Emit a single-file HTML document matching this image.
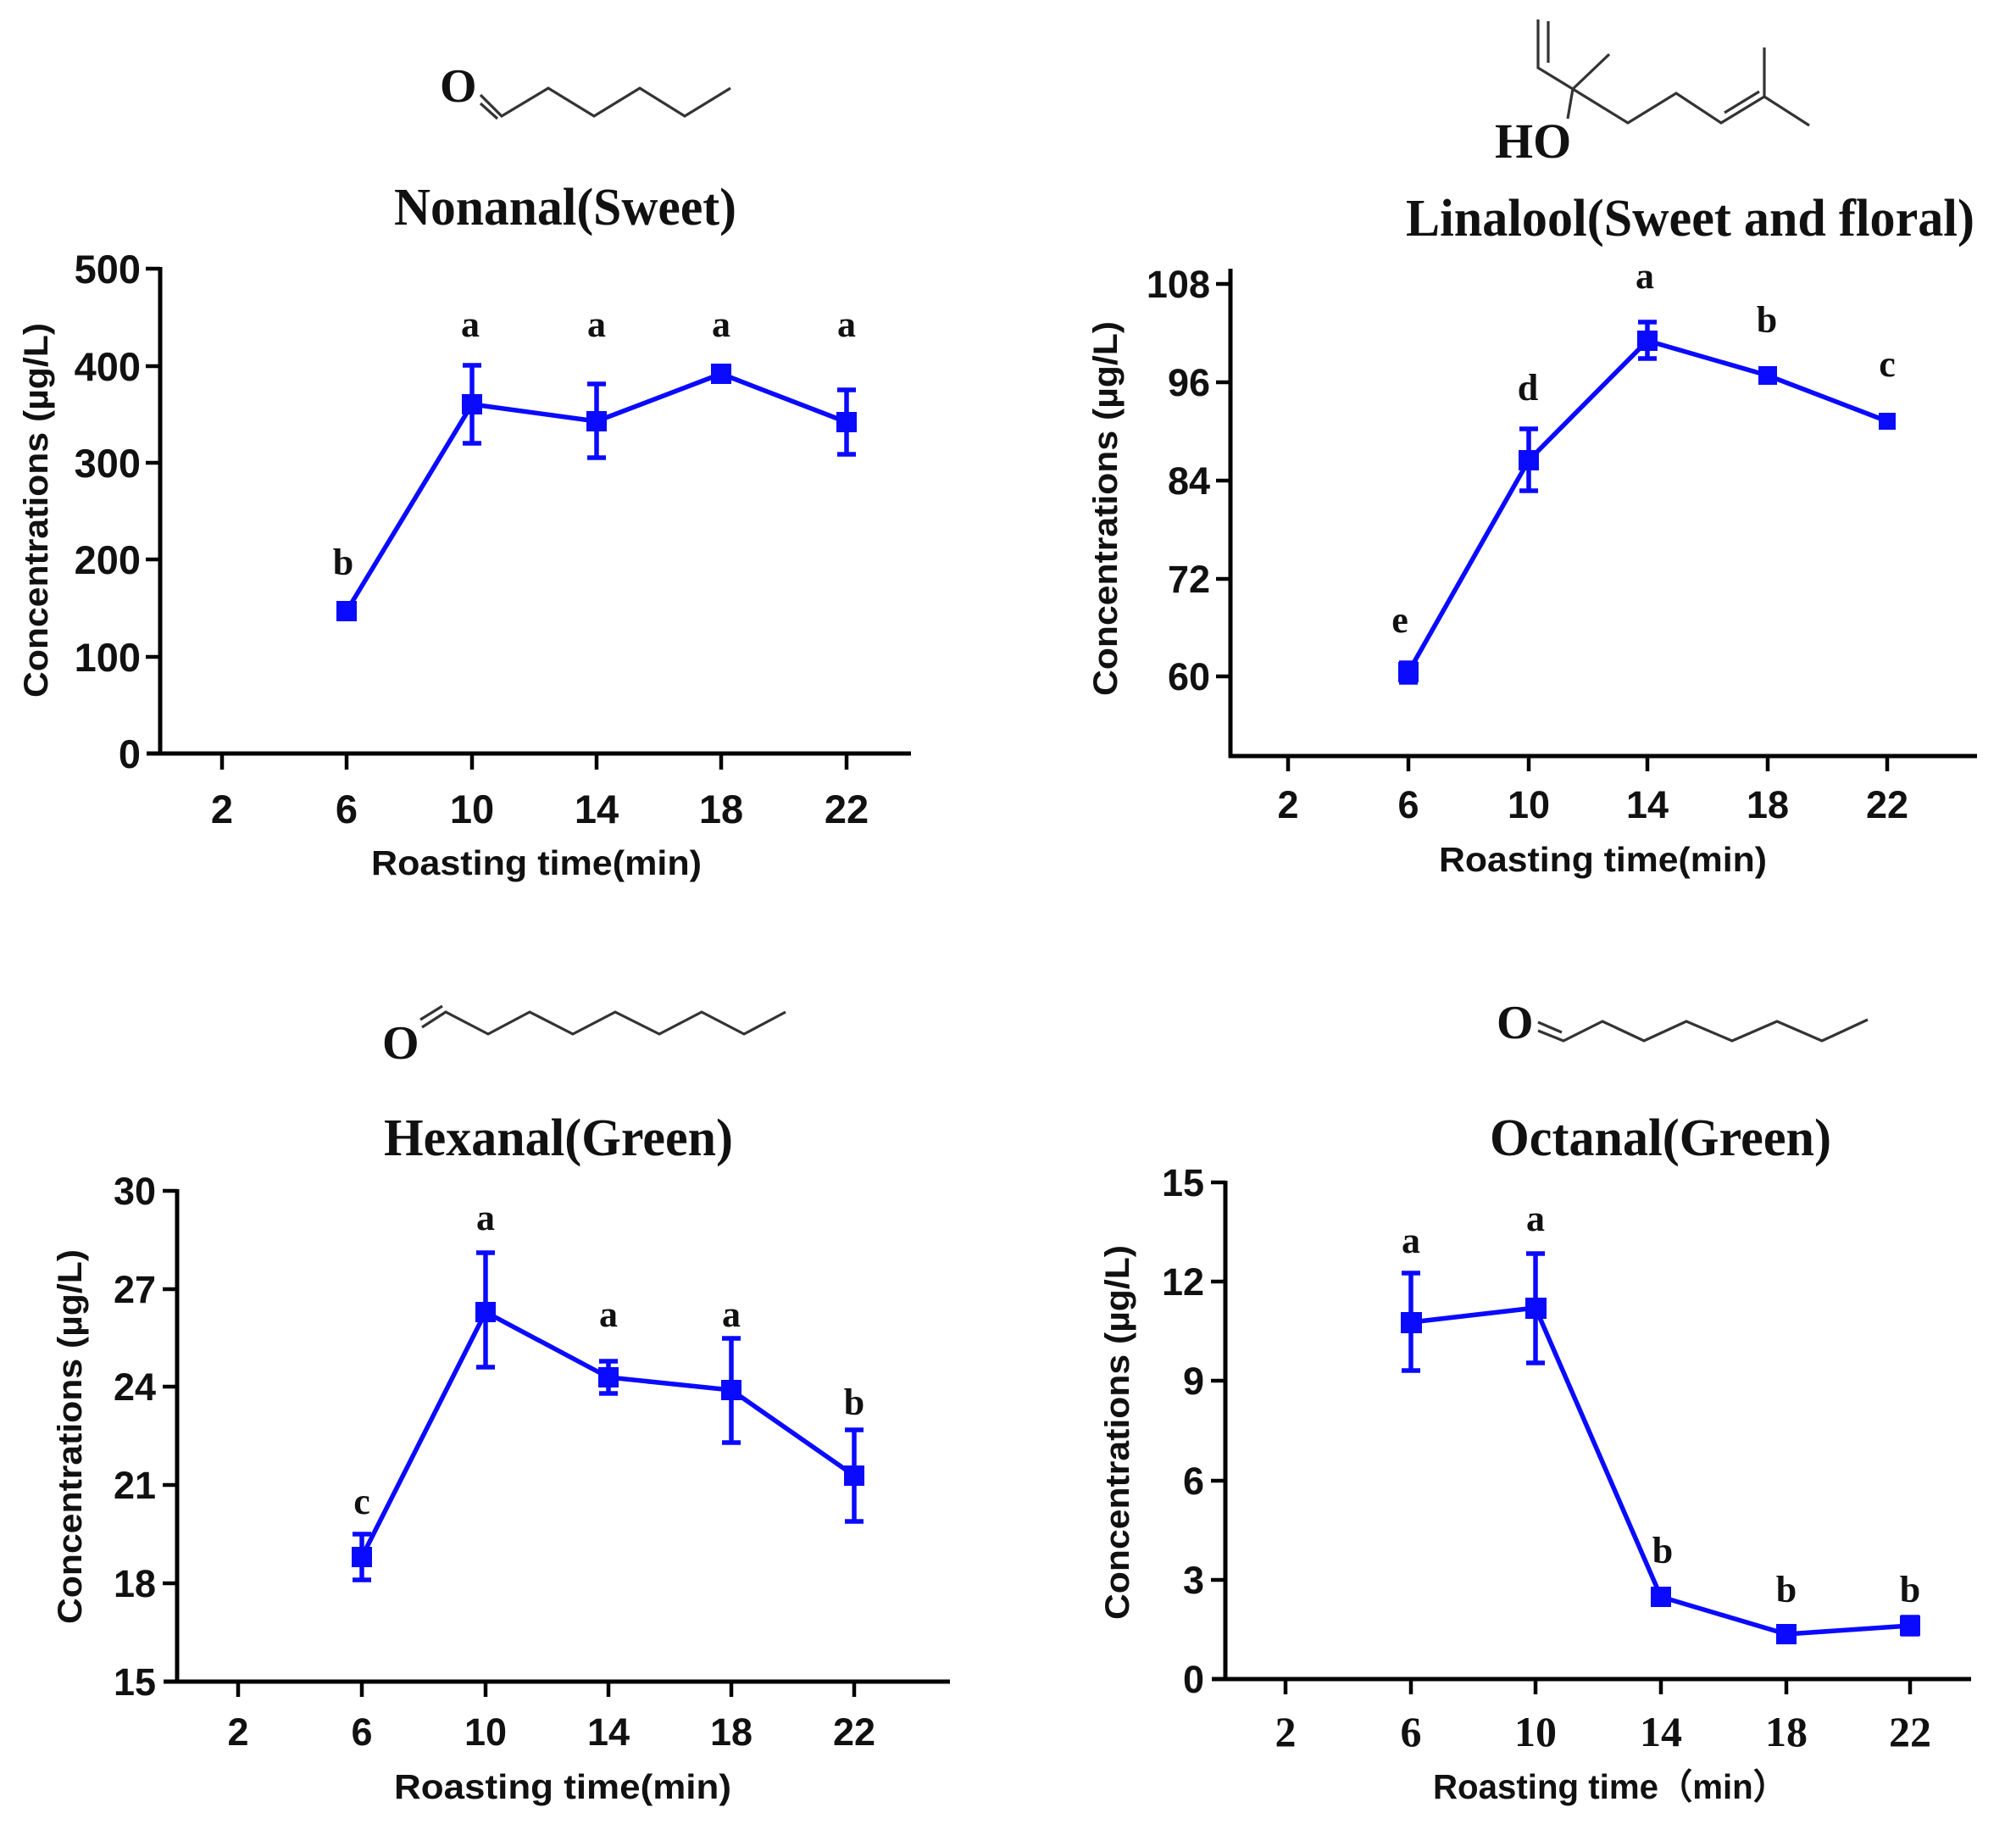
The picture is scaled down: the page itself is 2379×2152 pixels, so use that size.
<!DOCTYPE html>
<html><head><meta charset="utf-8"><style>
html,body{margin:0;padding:0;background:#fff;}
svg{display:block;}
.t{font-family:"Liberation Sans",sans-serif;font-weight:bold;fill:#111;}
.s{font-family:"Liberation Serif",serif;font-weight:bold;fill:#111;}
.ax{stroke:#000;stroke-width:5;fill:none;}
.tk{stroke:#000;stroke-width:4.5;fill:none;}
.ln{stroke:#0a0aff;stroke-width:5.5;fill:none;}
.mk{fill:#0a0aff;}
.mol{stroke:#333;stroke-width:3.2;fill:none;}
</style></head><body>
<svg width="2379" height="2152" viewBox="0 0 2379 2152" xmlns="http://www.w3.org/2000/svg">

<!-- ===== Panel 1: Nonanal ===== -->
<text class="s" x="519" y="120" font-size="56">O</text>
<polyline class="mol" points="567,112 592,137 647,104 701,137 755,104 808,137 862,104"/>
<line class="mol" x1="567" y1="122" x2="587" y2="140"/>
<text class="s" x="465" y="265" font-size="62" textLength="404" lengthAdjust="spacingAndGlyphs">Nonanal(Sweet)</text>

<line class="ax" x1="189" y1="315" x2="189" y2="891"/>
<line class="ax" x1="173" y1="889" x2="1075" y2="889"/>
<g class="tk">
<line x1="172" y1="317" x2="189" y2="317"/><line x1="172" y1="432" x2="189" y2="432"/>
<line x1="172" y1="546" x2="189" y2="546"/><line x1="172" y1="660" x2="189" y2="660"/>
<line x1="172" y1="775" x2="189" y2="775"/>
<line x1="262" y1="889" x2="262" y2="908"/><line x1="409" y1="889" x2="409" y2="908"/>
<line x1="557" y1="889" x2="557" y2="908"/><line x1="704" y1="889" x2="704" y2="908"/>
<line x1="851" y1="889" x2="851" y2="908"/><line x1="999" y1="889" x2="999" y2="908"/>
</g>
<g class="t" font-size="47" text-anchor="end">
<text x="166" y="334">500</text><text x="166" y="449">400</text><text x="166" y="563">300</text>
<text x="166" y="677">200</text><text x="166" y="792">100</text><text x="166" y="906">0</text>
</g>
<g class="t" font-size="47" text-anchor="middle">
<text x="262" y="971">2</text><text x="409" y="971">6</text><text x="557" y="971">10</text>
<text x="704" y="971">14</text><text x="851" y="971">18</text><text x="999" y="971">22</text>
</g>
<text class="t" x="438" y="1032" font-size="41" textLength="390" lengthAdjust="spacingAndGlyphs">Roasting time(min)</text>
<text class="t" transform="translate(56,602) rotate(-90)" font-size="40" text-anchor="middle" textLength="442" lengthAdjust="spacingAndGlyphs">Concentrations (µg/L)</text>
<polyline class="ln" points="409,721 557,477 704,497 851,441 999,498"/>
<g class="ln">
<path d="M557,431V523M546,431H568M546,523H568"/>
<path d="M704,453V540M693,453H715M693,540H715"/>
<path d="M851,435V446M840,435H862M840,446H862"/>
<path d="M999,460V536M988,460H1010M988,536H1010"/>
</g>
<g class="mk">
<rect x="397" y="709" width="24" height="24"/><rect x="545" y="465" width="24" height="24"/>
<rect x="692" y="485" width="24" height="24"/><rect x="839" y="429" width="24" height="24"/>
<rect x="987" y="486" width="24" height="24"/>
</g>
<g class="s" font-size="44" text-anchor="middle">
<text x="405" y="678">b</text><text x="555" y="397">a</text><text x="704" y="397">a</text>
<text x="851" y="397">a</text><text x="999" y="397">a</text>
</g>

<!-- ===== Panel 2: Linalool ===== -->
<polyline class="mol" points="1815,23 1815,80 1856,105 1921,145 1978,110 2031,145 2082,114 2135,148"/>
<line class="mol" x1="1827" y1="25" x2="1827" y2="74"/>
<line class="mol" x1="1856" y1="105" x2="1899" y2="64"/>
<line class="mol" x1="1856" y1="105" x2="1850" y2="140"/>
<line class="mol" x1="2082" y1="114" x2="2082" y2="56"/>
<line class="mol" x1="2035" y1="133" x2="2076" y2="108"/>
<text class="s" x="1764" y="186" font-size="58">HO</text>
<text class="s" x="1659" y="278" font-size="62" textLength="671" lengthAdjust="spacingAndGlyphs">Linalool(Sweet and floral)</text>

<line class="ax" x1="1452" y1="317" x2="1452" y2="894"/>
<line class="ax" x1="1450" y1="892" x2="2333" y2="892"/>
<g class="tk">
<line x1="1435" y1="335" x2="1452" y2="335"/><line x1="1435" y1="451" x2="1452" y2="451"/>
<line x1="1435" y1="567" x2="1452" y2="567"/><line x1="1435" y1="683" x2="1452" y2="683"/>
<line x1="1435" y1="798" x2="1452" y2="798"/>
<line x1="1520" y1="892" x2="1520" y2="910"/><line x1="1662" y1="892" x2="1662" y2="910"/>
<line x1="1804" y1="892" x2="1804" y2="910"/><line x1="1944" y1="892" x2="1944" y2="910"/>
<line x1="2086" y1="892" x2="2086" y2="910"/><line x1="2227" y1="892" x2="2227" y2="910"/>
</g>
<g class="t" font-size="45" text-anchor="end">
<text x="1428" y="351">108</text><text x="1428" y="467">96</text><text x="1428" y="583">84</text>
<text x="1428" y="699">72</text><text x="1428" y="814">60</text>
</g>
<g class="t" font-size="45" text-anchor="middle">
<text x="1520" y="965">2</text><text x="1662" y="965">6</text><text x="1804" y="965">10</text>
<text x="1944" y="965">14</text><text x="2086" y="965">18</text><text x="2227" y="965">22</text>
</g>
<text class="t" x="1698" y="1028" font-size="41" textLength="387" lengthAdjust="spacingAndGlyphs">Roasting time(min)</text>
<text class="t" transform="translate(1318,600) rotate(-90)" font-size="40" text-anchor="middle" textLength="442" lengthAdjust="spacingAndGlyphs">Concentrations (µg/L)</text>
<polyline class="ln" points="1662,793 1804,543 1944,402 2086,443 2227,497"/>
<g class="ln">
<path d="M1662,805V782M1651,805H1673M1651,782H1673"/>
<path d="M1804,506V579M1793,506H1815M1793,579H1815"/>
<path d="M1944,380V423M1933,380H1955M1933,423H1955"/>
</g>
<g class="mk">
<rect x="1650" y="781" width="24" height="24"/><rect x="1792" y="531" width="24" height="24"/>
<rect x="1932" y="390" width="24" height="24"/><rect x="2075" y="432" width="22" height="22"/>
<rect x="2217" y="487" width="20" height="20"/>
</g>
<g class="s" font-size="44" text-anchor="middle">
<text x="1652" y="746">e</text><text x="1803" y="472">d</text><text x="1941" y="340">a</text>
<text x="2085" y="392">b</text><text x="2227" y="444">c</text>
</g>

<!-- ===== Panel 3: Hexanal ===== -->
<text class="s" x="451" y="1249" font-size="56">O</text>
<polyline class="mol" points="498,1212 526,1194 576,1220 625,1194 676,1220 726,1194 778,1220 828,1194 878,1220 927,1194"/>
<line class="mol" x1="496" y1="1203" x2="522" y2="1187"/>
<text class="s" x="453" y="1363" font-size="62" textLength="412" lengthAdjust="spacingAndGlyphs">Hexanal(Green)</text>

<line class="ax" x1="209" y1="1403" x2="209" y2="1986"/>
<line class="ax" x1="193" y1="1984" x2="1121" y2="1984"/>
<g class="tk">
<line x1="192" y1="1405" x2="209" y2="1405"/><line x1="192" y1="1521" x2="209" y2="1521"/>
<line x1="192" y1="1636" x2="209" y2="1636"/><line x1="192" y1="1752" x2="209" y2="1752"/>
<line x1="192" y1="1868" x2="209" y2="1868"/>
<line x1="281" y1="1984" x2="281" y2="2002"/><line x1="427" y1="1984" x2="427" y2="2002"/>
<line x1="573" y1="1984" x2="573" y2="2002"/><line x1="718" y1="1984" x2="718" y2="2002"/>
<line x1="863" y1="1984" x2="863" y2="2002"/><line x1="1008" y1="1984" x2="1008" y2="2002"/>
</g>
<g class="t" font-size="45" text-anchor="end">
<text x="184" y="1421">30</text><text x="184" y="1537">27</text><text x="184" y="1652">24</text>
<text x="184" y="1768">21</text><text x="184" y="1884">18</text><text x="184" y="2000">15</text>
</g>
<g class="t" font-size="45" text-anchor="middle">
<text x="281" y="2059">2</text><text x="427" y="2059">6</text><text x="573" y="2059">10</text>
<text x="718" y="2059">14</text><text x="863" y="2059">18</text><text x="1008" y="2059">22</text>
</g>
<text class="t" x="465" y="2122" font-size="41" textLength="398" lengthAdjust="spacingAndGlyphs">Roasting time(min)</text>
<text class="t" transform="translate(96,1695) rotate(-90)" font-size="40" text-anchor="middle" textLength="442" lengthAdjust="spacingAndGlyphs">Concentrations (µg/L)</text>
<polyline class="ln" points="427,1837 573,1548 718,1625 863,1640 1008,1741"/>
<g class="ln">
<path d="M427,1810V1864M416,1810H438M416,1864H438"/>
<path d="M573,1478V1613M562,1478H584M562,1613H584"/>
<path d="M718,1606V1644M707,1606H729M707,1644H729"/>
<path d="M863,1579V1702M852,1579H874M852,1702H874"/>
<path d="M1008,1687V1795M997,1687H1019M997,1795H1019"/>
</g>
<g class="mk">
<rect x="415" y="1825" width="24" height="24"/><rect x="561" y="1536" width="24" height="24"/>
<rect x="706" y="1613" width="24" height="24"/><rect x="851" y="1628" width="24" height="24"/>
<rect x="996" y="1729" width="24" height="24"/>
</g>
<g class="s" font-size="44" text-anchor="middle">
<text x="427" y="1786">c</text><text x="573" y="1451">a</text><text x="718" y="1565">a</text>
<text x="863" y="1565">a</text><text x="1008" y="1669">b</text>
</g>

<!-- ===== Panel 4: Octanal ===== -->
<text class="s" x="1766" y="1225" font-size="56">O</text>
<polyline class="mol" points="1815,1216 1845,1228 1891,1205 1940,1228 1990,1205 2044,1228 2097,1205 2150,1228 2204,1203"/>
<line class="mol" x1="1815" y1="1206" x2="1843" y2="1218"/>
<text class="s" x="1758" y="1363" font-size="62" textLength="403" lengthAdjust="spacingAndGlyphs">Octanal(Green)</text>

<line class="ax" x1="1446" y1="1393" x2="1446" y2="1983"/>
<line class="ax" x1="1430" y1="1981" x2="2326" y2="1981"/>
<g class="tk">
<line x1="1429" y1="1395" x2="1446" y2="1395"/><line x1="1429" y1="1512" x2="1446" y2="1512"/>
<line x1="1429" y1="1629" x2="1446" y2="1629"/><line x1="1429" y1="1747" x2="1446" y2="1747"/>
<line x1="1429" y1="1864" x2="1446" y2="1864"/>
<line x1="1517" y1="1981" x2="1517" y2="1999"/><line x1="1665" y1="1981" x2="1665" y2="1999"/>
<line x1="1812" y1="1981" x2="1812" y2="1999"/><line x1="1960" y1="1981" x2="1960" y2="1999"/>
<line x1="2108" y1="1981" x2="2108" y2="1999"/><line x1="2254" y1="1981" x2="2254" y2="1999"/>
</g>
<g class="t" font-size="45" text-anchor="end">
<text x="1421" y="1411">15</text><text x="1421" y="1528">12</text><text x="1421" y="1645">9</text>
<text x="1421" y="1763">6</text><text x="1421" y="1880">3</text><text x="1421" y="1997">0</text>
</g>
<g class="s" font-size="50" text-anchor="middle">
<text x="1517" y="2060">2</text><text x="1665" y="2060">6</text><text x="1812" y="2060">10</text>
<text x="1960" y="2060">14</text><text x="2108" y="2060">18</text><text x="2254" y="2060">22</text>
</g>
<text class="t" x="1691" y="2122" font-size="41" textLength="418" lengthAdjust="spacingAndGlyphs">Roasting time（min）</text>
<text class="t" transform="translate(1332,1690) rotate(-90)" font-size="40" text-anchor="middle" textLength="442" lengthAdjust="spacingAndGlyphs">Concentrations (µg/L)</text>
<polyline class="ln" points="1665,1560 1812,1543 1960,1884 2108,1928 2254,1918"/>
<g class="ln">
<path d="M1665,1502V1617M1654,1502H1676M1654,1617H1676"/>
<path d="M1812,1479V1608M1801,1479H1823M1801,1608H1823"/>
<path d="M2254,1908V1928M2243,1908H2265M2243,1928H2265"/>
</g>
<g class="mk">
<rect x="1653" y="1548" width="25" height="25"/><rect x="1800" y="1531" width="25" height="25"/>
<rect x="1948" y="1872" width="24" height="24"/><rect x="2096" y="1916" width="24" height="24"/>
<rect x="2242" y="1906" width="24" height="24"/>
</g>
<g class="s" font-size="44" text-anchor="middle">
<text x="1665" y="1478">a</text><text x="1812" y="1452">a</text><text x="1962" y="1844">b</text>
<text x="2108" y="1890">b</text><text x="2254" y="1890">b</text>
</g>
</svg>
</body></html>
